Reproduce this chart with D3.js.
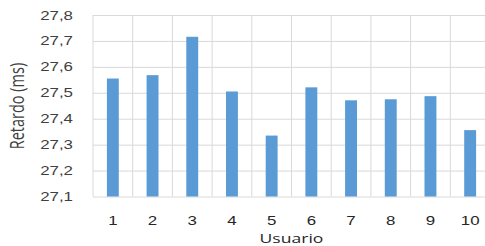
<!DOCTYPE html>
<html>
<head>
<meta charset="utf-8">
<script src="https://cdn.jsdelivr.net/npm/d3@7"></script>
<style>
  html, body { margin: 0; padding: 0; background: #fff; }
  svg { display: block; }
</style>
</head>
<body>
<svg id="chart"></svg>
<script>
// data
var usuarios = ["1", "2", "3", "4", "5", "6", "7", "8", "9", "10"]
var retardo = [27.555, 27.568, 27.716, 27.505, 27.335, 27.521, 27.471, 27.475, 27.487, 27.356]
var yTicks = [27.1, 27.2, 27.3, 27.4, 27.5, 27.6, 27.7, 27.8]

var dataset = usuarios.map((u, i) => ({ usuario: u, retardo: retardo[i] }))

// the original picture is stretched sideways, so draw in a narrower box and stretch it
var sx = 1.35
var dimensions = {
    width: 485,
    height: 246,
    margin: { top: 15, bottom: 49.5, left: 93, right: -5 }
}

var svg = d3.select("#chart")
            .attr("width", dimensions.width)
            .attr("height", dimensions.height)
            .attr("viewBox", `0 0 ${dimensions.width / sx} ${dimensions.height}`)
            .attr("preserveAspectRatio", "none")
            .style("font-family", "'Open Sans', sans-serif")

var left = dimensions.margin.left / sx
var right = (dimensions.width - dimensions.margin.right) / sx
var bottom = dimensions.height - dimensions.margin.bottom

var xScale = d3.scaleBand()
               .domain(usuarios)
               .range([left, right])
var yScale = d3.scaleLinear()
               .domain([27.1, 27.8])
               .range([bottom, dimensions.margin.top])

// horizontal grid + y labels
var yAxisGen = d3.axisLeft(yScale)
                 .tickValues(yTicks)
                 .tickSize(-(right - left))
                 .tickPadding(20 / sx)
                 .tickFormat(d => d.toFixed(1).replace(".", ","))
var yAxis = svg.append("g")
               .attr("transform", `translate(${left},0)`)
               .call(yAxisGen)
yAxis.select(".domain").remove()
yAxis.selectAll("line")
     .attr("stroke", "#d9d9d9")
     .attr("vector-effect", "non-scaling-stroke")
yAxis.selectAll("text")
     .attr("fill", "#404040")
     .style("font-size", "12.5px")

// vertical grid at category borders
var borders = usuarios.map(d => xScale(d)).concat([xScale.range()[1]])
svg.append("g")
   .selectAll("line")
   .data(borders)
   .enter()
   .append("line")
   .attr("x1", d => d)
   .attr("x2", d => d)
   .attr("y1", yScale(27.8))
   .attr("y2", yScale(27.1))
   .attr("stroke", "#d9d9d9")
   .attr("vector-effect", "non-scaling-stroke")

// bars
var barW = xScale.bandwidth() * 0.3
svg.append("g")
   .selectAll("rect")
   .data(dataset)
   .enter()
   .append("rect")
   .attr("x", d => xScale(d.usuario) + (xScale.bandwidth() - barW) / 2)
   .attr("width", barW)
   .attr("y", d => yScale(d.retardo))
   .attr("height", d => yScale(27.1) - yScale(d.retardo))
   .attr("fill", "#5b9bd5")

// x labels
var xAxisGen = d3.axisBottom(xScale).tickSize(0).tickPadding(19.5)
var xAxis = svg.append("g")
               .attr("transform", `translate(0,${bottom})`)
               .call(xAxisGen)
xAxis.select(".domain").remove()
xAxis.selectAll("text")
     .attr("fill", "#262626")
     .style("font-size", "12.5px")

// axis titles
svg.append("text")
   .attr("x", (left + right) / 2)
   .attr("y", 243)
   .attr("text-anchor", "middle")
   .attr("fill", "#262626")
   .style("font-size", "13px")
   .text("Usuario")

svg.append("text")
   .attr("transform", `translate(${24 / sx},106) rotate(-90)`)
   .attr("text-anchor", "middle")
   .attr("fill", "#404040")
   .style("font-size", "14.5px")
   .text("Retardo (ms)")
</script>
</body>
</html>
